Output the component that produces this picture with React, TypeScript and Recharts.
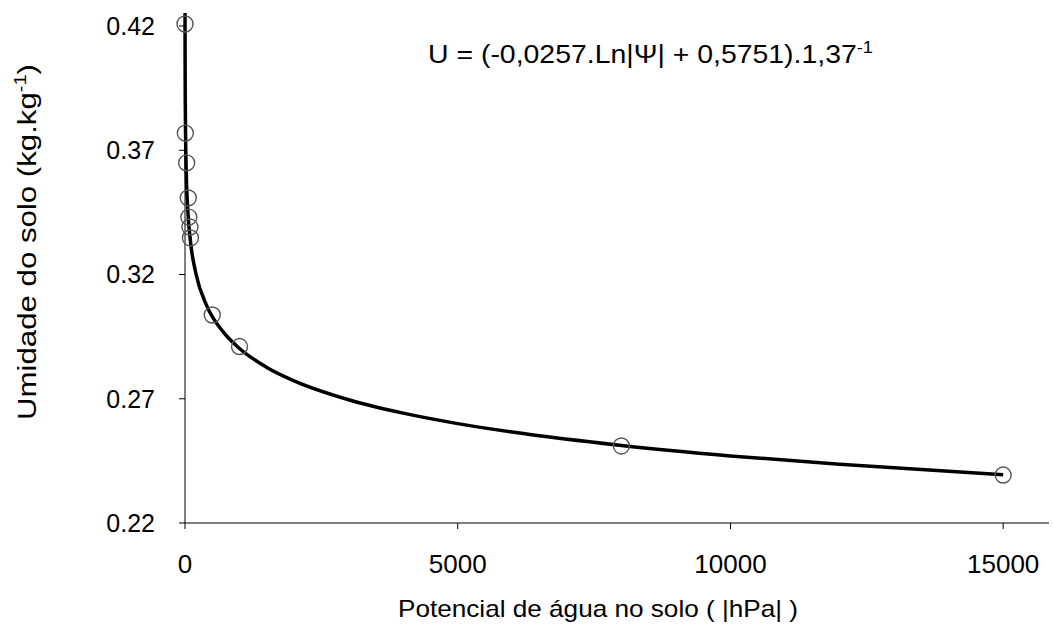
import React from "react";
import {
  ComposedChart,
  Line,
  Scatter,
  XAxis,
  YAxis,
  ReferenceLine,
  Customized,
} from "recharts";

// Observed points: soil water potential |hPa| vs soil moisture (kg/kg)
const obsPotential = [0, 6, 30, 60, 70, 90, 100, 500, 1000, 8000, 15000];
const obsMoisture = [0.4208, 0.3769, 0.3649, 0.3508, 0.3431, 0.3391, 0.3347, 0.3037, 0.291, 0.251, 0.2393];

// Fitted curve
const curvePotential = [0.75, 1, 2, 5, 10, 20, 50, 100, 200, 400, 700, 1000, 1500, 2000, 3000, 4000, 5000, 6000, 8000, 10000, 12000, 15000];
const curveMoisture = [0.4252, 0.4198, 0.4068, 0.3896, 0.3766, 0.3636, 0.3464, 0.3334, 0.3204, 0.3074, 0.2969, 0.2902, 0.2826, 0.2772, 0.2696, 0.2642, 0.26, 0.2566, 0.2512, 0.247, 0.2436, 0.2394];

const xTicks = [0, 5000, 10000, 15000];
const yTicks = [0.22, 0.27, 0.32, 0.37, 0.42];
const X_MAX = 15840;
const Y_MIN = 0.22;
const Y_MAX = 0.43;

const obsData = obsPotential.map((x, i) => ({ x, u: obsMoisture[i] }));
const curveData = curvePotential.map((x, i) => ({ x, u: curveMoisture[i] }));

const FONT = "'Liberation Sans', Arial, sans-serif";

const Circle = (props: any) => {
  const { cx, cy } = props;
  if (cx == null || cy == null) return null;
  return <circle cx={cx} cy={cy} r={8} fill="none" stroke="#555" strokeWidth={1.4} />;
};

const Texts = () => (
  <g fontFamily={FONT} fill="#000">
    <text x={428} y={63} fontSize={25} textLength={445} lengthAdjust="spacingAndGlyphs">
      U = (-0,0257.Ln|Ψ| + 0,5751).1,37
      <tspan fontSize={16} dy={-10}>-1</tspan>
    </text>
    <text
      x={398}
      y={617}
      fontSize={24}
      textLength={400}
      lengthAdjust="spacingAndGlyphs"
    >
      Potencial de água no solo ( |hPa| )
    </text>
    <text
      x={-420}
      y={36}
      fontSize={25}
      textLength={356}
      lengthAdjust="spacingAndGlyphs"
      transform="rotate(-90)"
    >
      Umidade do solo (kg.kg
      <tspan fontSize={16} dy={-10}>-1</tspan>
      <tspan dy={10}>)</tspan>
    </text>
  </g>
);

export default function App() {
  return (
    <div style={{ position: "absolute", left: 0, top: 0 }}>
      <ComposedChart
        width={1053}
        height={627}
        margin={{ top: 1.15, right: 4, bottom: 0, left: 0 }}
        style={{ fontFamily: FONT }}
      >
        <XAxis
          type="number"
          dataKey="x"
          domain={[0, X_MAX]}
          ticks={xTicks}
          height={104}
          axisLine={{ stroke: "#000", strokeWidth: 1 }}
          tickLine={{ stroke: "#000", strokeWidth: 1 }}
          tickSize={6}
          tickMargin={26}
          tick={{ fill: "#000", fontSize: 26, fontFamily: FONT }}
          interval={0}
        />
        <YAxis
          type="number"
          dataKey="u"
          domain={[Y_MIN, Y_MAX]}
          ticks={yTicks}
          width={185}
          axisLine={false}
          tickLine={{ stroke: "#000", strokeWidth: 1 }}
          tickSize={6}
          tickMargin={24}
          tick={{ fill: "#000", fontSize: 25, fontFamily: FONT }}
          interval={0}
        />
        <ReferenceLine
          segment={[
            { x: 0, y: Y_MIN },
            { x: 0, y: 0.42 },
          ]}
          stroke="#000"
          strokeWidth={1}
        />
        <Line
          data={curveData}
          dataKey="u"
          type="monotone"
          stroke="#000"
          strokeWidth={3.5}
          dot={false}
          activeDot={false}
          isAnimationActive={false}
        />
        <Scatter
          data={obsData}
          dataKey="u"
          shape={<Circle />}
          isAnimationActive={false}
        />
        <Customized component={Texts} />
      </ComposedChart>
    </div>
  );
}
